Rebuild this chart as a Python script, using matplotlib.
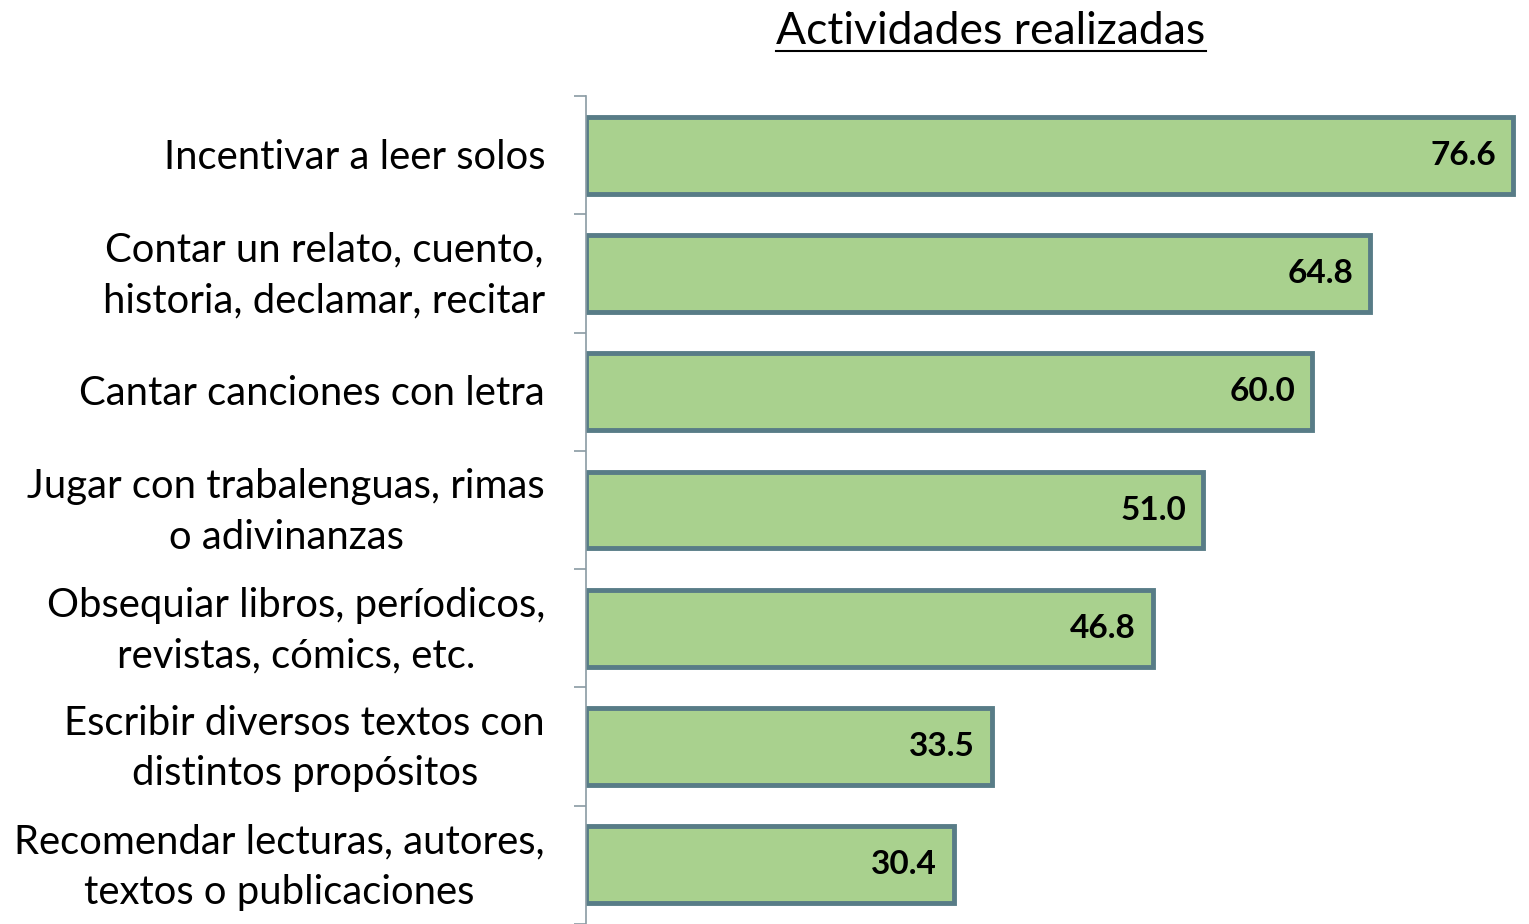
import matplotlib.pyplot as plt
from matplotlib.lines import Line2D

plt.rcParams['font.family'] = ['Lato', 'DejaVu Sans']

categorias = [
    "Incentivar a leer solos",
    "Contar un relato, cuento,\nhistoria, declamar, recitar",
    "Cantar canciones con letra",
    "Jugar con trabalenguas, rimas\no adivinanzas",
    "Obsequiar libros, períodicos,\nrevistas, cómics, etc.",
    "Escribir diversos textos con\ndistintos propósitos",
    "Recomendar lecturas, autores,\ntextos o publicaciones",
]
valores = [76.6, 64.8, 60.0, 51.0, 46.8, 33.5, 30.4]
titulo = "Actividades realizadas"

W, H = 1529, 924
fig = plt.figure(figsize=(W / 100, H / 100), dpi=100)
ax = fig.add_axes([586 / W, 0, 1 - 586 / W, 1 - 96 / H])

y = list(range(len(categorias)))
ax.barh(y, valores, height=0.65, color='#A9D18E', edgecolor='#587C87', linewidth=3.5)
ax.set_ylim(len(categorias) - 0.5, -0.5)
ax.set_xlim(0, 77.9)

for yi, v in zip(y, valores):
    ax.text(v - 1.4, yi, f"{v:.1f}", ha='right', va='center',
            fontsize=24, fontweight='bold', color='black')

# etiquetas de categoria
ax.set_yticks([])
for yi, c in zip(y, categorias):
    ax.annotate(c, xy=(0, yi), xycoords=('axes fraction', 'data'),
                xytext=(-41, -2), textcoords='offset pixels',
                ha='right', va='center', multialignment='center',
                fontsize=28.8, linespacing=1.45, color='black')

# marcas entre categorias
ax.set_yticks([i - 0.5 for i in range(len(categorias) + 1)], minor=True)
ax.tick_params(axis='y', which='minor', length=9, width=1.2, color='#8A9BA3', direction='out')
ax.tick_params(axis='x', bottom=False, labelbottom=False)
for s in ['top', 'right', 'bottom']:
    ax.spines[s].set_visible(False)
ax.spines['left'].set_color('#8A9BA3')
ax.spines['left'].set_linewidth(1.2)

t = fig.text(991 / W, 1 - 31 / H, titulo, ha='center', va='center', fontsize=32)
fig.canvas.draw()
bb = t.get_window_extent()
uy = bb.y0 + 1
fig.add_artist(Line2D([bb.x0 / W, bb.x1 / W], [uy / H, uy / H],
                      transform=fig.transFigure, color='black', linewidth=1.5))

fig.savefig('out.png', dpi=100)
